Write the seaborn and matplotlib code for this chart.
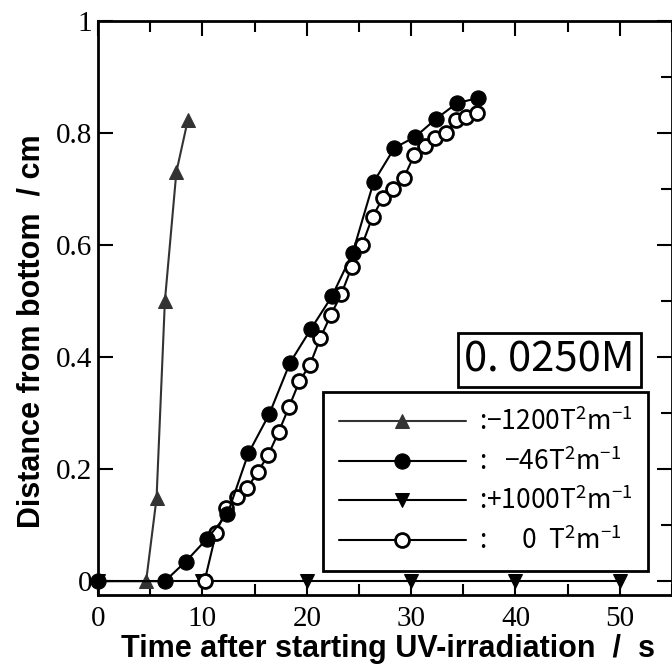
import seaborn as sns
import matplotlib.pyplot as plt
from matplotlib.ticker import MultipleLocator, FuncFormatter

# -1200 T^2/m (filled up triangles)
t_neg1200 = [4.6, 5.6, 6.4, 7.5, 8.6]
d_neg1200 = [0.0, 0.148, 0.50, 0.73, 0.823]

# -46 T^2/m (filled circles)
t_neg46 = [0, 6.4, 8.4, 10.4, 12.4, 14.4, 16.4, 18.4, 20.4, 22.4, 24.4,
           26.4, 28.4, 30.4, 32.4, 34.4, 36.4]
d_neg46 = [0.0, 0.0, 0.035, 0.075, 0.12, 0.228, 0.298, 0.39, 0.45, 0.508,
           0.586, 0.712, 0.773, 0.793, 0.825, 0.853, 0.862]

# +1000 T^2/m (filled down triangles)
t_pos1000 = [0, 10, 20, 30, 40, 50]
d_pos1000 = [0, 0, 0, 0, 0, 0]

# 0 T^2/m (open circles)
t_zero = [10.2, 11.3, 12.3, 13.3, 14.3, 15.3, 16.3, 17.3, 18.3, 19.3, 20.3,
          21.3, 22.3, 23.3, 24.3, 25.3, 26.3, 27.3, 28.3, 29.3, 30.3, 31.3,
          32.3, 33.3, 34.3, 35.3, 36.3]
d_zero = [0.0, 0.086, 0.13, 0.15, 0.166, 0.195, 0.225, 0.266, 0.311, 0.357,
          0.386, 0.434, 0.475, 0.512, 0.56, 0.60, 0.65, 0.684, 0.70, 0.72,
          0.76, 0.777, 0.79, 0.80, 0.823, 0.828, 0.835]

labels = [r':$-$1200T$^{2}$m$^{-1}$', r':   $-$46T$^{2}$m$^{-1}$',
          r':+1000T$^{2}$m$^{-1}$', r':      0  T$^{2}$m$^{-1}$']

sns.set_theme(style='ticks')
plt.rcParams['font.family'] = ['Liberation Serif', 'DejaVu Serif']
plt.rcParams['mathtext.fontset'] = 'custom'
plt.rcParams['mathtext.rm'] = 'Noto Sans CJK JP'
plt.rcParams['mathtext.it'] = 'Noto Sans CJK JP'
for k in ['text.color', 'axes.labelcolor', 'xtick.color', 'ytick.color']:
    plt.rcParams[k] = 'black'

fig = plt.figure(figsize=(6.72, 6.68), dpi=100)
ax = fig.add_axes([0.146, 0.109, 0.854, 0.86])

lw = 1.5
sns.lineplot(x=t_pos1000, y=d_pos1000, ax=ax, color='black', lw=lw,
             marker='v', markersize=10, markeredgecolor='black', label=labels[2])
sns.lineplot(x=t_neg1200, y=d_neg1200, ax=ax, color='#333333', lw=lw,
             marker='^', markersize=10, markeredgecolor='#333333', label=labels[0])
sns.lineplot(x=t_zero, y=d_zero, ax=ax, color='black', lw=lw,
             marker='o', markersize=10, markerfacecolor='white',
             markeredgecolor='black', markeredgewidth=2, label=labels[3])
sns.lineplot(x=t_neg46, y=d_neg46, ax=ax, color='black', lw=lw,
             marker='o', markersize=11, markeredgecolor='black', label=labels[1],
             clip_on=False)

ax.set_xlim(0, 55)
ax.set_ylim(-0.025, 1.0)
ax.xaxis.set_major_locator(MultipleLocator(10))
ax.xaxis.set_minor_locator(MultipleLocator(5))
ax.yaxis.set_major_locator(MultipleLocator(0.2))
ax.yaxis.set_minor_locator(MultipleLocator(0.1))
ax.yaxis.set_major_formatter(FuncFormatter(lambda v, p: '%g' % round(v, 1)))
ax.set_xticks([0, 10, 20, 30, 40, 50])
ax.tick_params(which='both', direction='in', top=True, right=True,
               labelsize=21, width=1.5, pad=4)
ax.tick_params(axis='x', pad=8)
ax.tick_params(which='major', length=11)
ax.tick_params(which='minor', length=8)
ax.tick_params(axis='y', which='minor', left=False)
for s in ax.spines.values():
    s.set_linewidth(2)
    s.set_color('black')

ax.set_xlabel('Time after starting UV-irradiation  /  s', fontsize=22,
              fontweight='bold', family='Liberation Sans')
ax.set_ylabel('Distance from bottom  / cm', fontsize=22,
              fontweight='bold', family='Liberation Sans')
ax.xaxis.set_label_coords(0.506, -0.068)
ax.yaxis.set_label_coords(-0.09, 0.46)

h, l = ax.get_legend_handles_labels()
order = [l.index(x) for x in labels]
leg = ax.legend([h[i] for i in order], [l[i] for i in order],
                loc='upper left', bbox_to_anchor=(0.392, 0.354),
                borderaxespad=0, fancybox=False, edgecolor='black',
                framealpha=1, handlelength=4.8,
                prop={'family': 'Noto Sans CJK JP', 'size': 19},
                labelspacing=0.42, handletextpad=0.5, borderpad=0.6)
leg.get_frame().set_linewidth(2)

ax.text(0.787, 0.409, '0. 0250M', transform=ax.transAxes, ha='center',
        va='center', fontsize=30, family=['Noto Sans CJK JP', 'DejaVu Sans'],
        bbox=dict(boxstyle='square,pad=0.15', fc='white', ec='black', lw=2))

fig.savefig('out.png', dpi=100)
